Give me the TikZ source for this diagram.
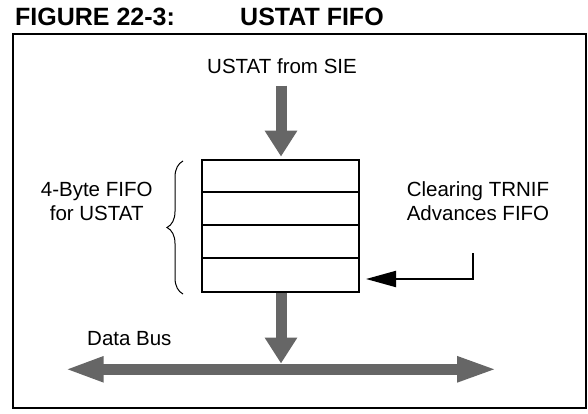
\documentclass[tikz,border=0pt]{standalone}
\usepackage{fontspec}
\setmainfont{Liberation Sans}
\usetikzlibrary{arrows.meta,decorations.pathreplacing}
\definecolor{busgray}{RGB}{102,102,102}
\begin{document}
\begin{tikzpicture}[x=1pt,y=-1pt,
  lbl/.style={font=\fontsize{20.5}{24}\selectfont, inner sep=0pt, anchor=base},
  ttl/.style={font=\bfseries\fontsize{25}{30}\selectfont, inner sep=0pt, anchor=base west},
  framebox/.style={draw, line width=2pt, minimum width=573pt, minimum height=374pt, inner sep=0pt},
  fifobox/.style={draw, line width=1.8pt, minimum width=157pt, minimum height=132pt, inner sep=0pt},
  rowline/.style={line width=1.8pt},
  fat/.style={draw=busgray, line width=11pt, -{Triangle[width=31pt,length=26pt]}},
  busline/.style={draw=busgray, line width=10.7pt, {Triangle[width=23pt,length=39pt]}-{Triangle[width=23pt,length=41pt]}},
  thinarrow/.style={line width=2pt, -{Triangle[width=16pt,length=30pt]}},
  bracestyle/.style={line width=1pt, decorate, decoration={brace, amplitude=16pt}}
]
\useasboundingbox (0,0) rectangle (588,414);
% title
\node[ttl] (fig) at (15,26) {FIGURE 22-3:};
\node[ttl] (name) at (240,26) {USTAT FIFO};
% frame
\node[framebox] (frame) at (299.5,221) {};
% FIFO box
\node[fifobox] (fifo) at (280.5,226) {};
\foreach \k in {1,2,3}
  \draw[rowline] ([yshift=-33*\k pt]fifo.north west) -- ([yshift=-33*\k pt]fifo.north east);
% input
\node[lbl] (sie) at (282,74) {USTAT from SIE};
\coordinate (sieout) at (281,85.7);
\draw[fat] (sieout) -- ([yshift=2.5pt]fifo.north -| sieout);
% output to bus
\coordinate (busL) at (64.5,369.3);
\coordinate (busR) at (498,369.3);
\coordinate (busjoin) at (281,363.5);
\draw[fat] (fifo.south -| busjoin) -- (busjoin);
\draw[busline] (busL) -- (busR);
\node[lbl, anchor=base west] (databus) at (87,345) {Data Bus};
% left label and brace
\node[lbl, align=center] (fifolbl) at (96.7,220) {4-Byte FIFO\\for USTAT};
\coordinate (braceB) at (183,294);
\coordinate (braceT) at (183,161);
\draw[bracestyle] (braceB) -- (braceT);
% right label and arrow
\node[lbl, align=center] (trniflbl) at (478,220) {Clearing TRNIF\\Advances FIFO};
\coordinate (trnifsrc) at (473,253);
\coordinate (trnifin) at (366,279);
\draw[thinarrow] (trnifsrc) |- (trnifin);
\end{tikzpicture}
\end{document}
